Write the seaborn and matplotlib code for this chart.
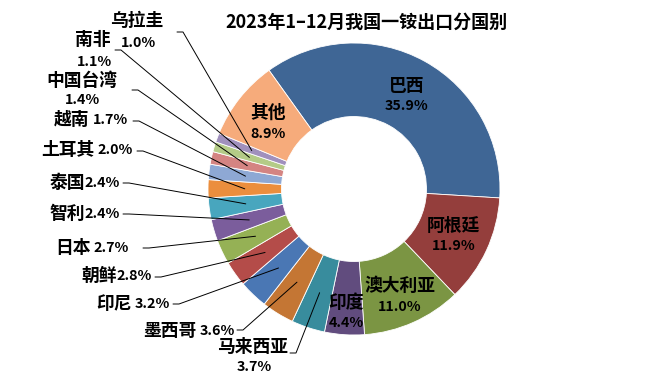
import numpy as np
import matplotlib
matplotlib.use('Agg')
import matplotlib.pyplot as plt
import seaborn as sns

# 2023年1-12月我国一铵出口分国别 (share, %)
countries = ['巴西', '阿根廷', '澳大利亚', '印度', '马来西亚', '墨西哥', '印尼', '朝鲜',
             '日本', '智利', '泰国', '土耳其', '越南', '中国台湾', '南非', '乌拉圭', '其他']
shares = [35.9, 11.9, 11.0, 4.4, 3.7, 3.6, 3.2, 2.8, 2.7, 2.4, 2.4, 2.0, 1.7, 1.4, 1.1, 1.0, 8.9]
colors = ['#3F6695', '#943E3C', '#7B9543', '#614C7E', '#388C9D', '#C47634', '#4A77B4', '#B44C49',
          '#95B155', '#7B5D9C', '#48A6BE', '#EB8E3D', '#8EA8D4', '#D48482', '#B4CB87', '#A090BD',
          '#F6AB7B']
title = '2023年1–12月我国一铵出口分国别'

sns.set_theme(style='white')
plt.rcParams['font.family'] = ['Noto Sans CJK SC', 'DejaVu Sans']

W, H = 659, 378
fig = plt.figure(figsize=(W / 100, H / 100), dpi=100)
ax = fig.add_axes([0, 0, 1, 1])

cx, cy = 354, H - 189
R, r = 146, 72.5
wedges, _ = ax.pie(shares, colors=colors, startangle=125.6, counterclock=False,
                   radius=R, center=(cx, cy),
                   wedgeprops=dict(width=R - r, edgecolor='white', linewidth=0.6))
ax.set_xlim(0, W)
ax.set_ylim(0, H)
ax.set_aspect('auto')
ax.axis('off')

NAME_FS, PCT_FS = 12.8, 10.3
pct = {c: f'{v:.1f}%' for c, v in zip(countries, shares)}

def txt(x, y, s, fs, **kw):
    return ax.text(x, H - y, s, fontsize=fs, fontweight='bold', color='black', **kw)

# labels inside the ring (name centre, percent centre) in pixels, y down
inside = {'巴西': ((407, 86), (407, 106)), '阿根廷': ((453, 226), (454, 246)),
          '澳大利亚': ((400, 286), (400, 307)), '印度': ((346, 303), (346, 323)),
          '其他': ((268, 113), (268, 134))}
for c, (p1, p2) in inside.items():
    txt(*p1, c, NAME_FS, ha='center', va='center')
    txt(*p2, pct[c], PCT_FS, ha='center', va='center')

# outside labels: stacked (name over percent)
stacked = {'乌拉圭': ((137, 21), (139, 43), (177, 32)),
           '南非': ((93, 40), (94, 62), (115, 50)),
           '中国台湾': ((82, 81), (82, 100), (132, 90)),
           '马来西亚': ((253, 347), (254, 367), (290, 353))}
# outside labels on one line: (right edge x, y, gap, leader start)
inline = {'越南': (128, 120, 3, (133, 121)), '土耳其': (133, 150, 3, (137, 151)),
          '泰国': (120, 183, 0, (123, 183)), '智利': (120, 214, 0, (123, 214)),
          '日本': (129, 248, 3, (143, 248)), '朝鲜': (152, 276, 0, (155, 277)),
          '印尼': (170, 304, 3, (173, 304)), '墨西哥': (235, 331, 3, (237, 330))}

fig.canvas.draw()
rend = fig.canvas.get_renderer()
starts = {}
for c, (p1, p2, s) in stacked.items():
    txt(*p1, c, NAME_FS, ha='center', va='center')
    txt(*p2, pct[c], PCT_FS, ha='center', va='center')
    starts[c] = s
for c, (xr, y, gap, s) in inline.items():
    t = txt(xr, y, pct[c], PCT_FS, ha='right', va='center')
    w = t.get_window_extent(rend).width
    txt(xr - w - gap, y, c, NAME_FS, ha='right', va='center')
    starts[c] = s

# leader lines: short horizontal stub, then to the middle of the wedge
for c, w in zip(countries, wedges):
    if c not in starts:
        continue
    ang = np.deg2rad((w.theta1 + w.theta2) / 2)
    rm = (R + r) / 2
    tx, ty = cx + rm * np.cos(ang), cy + rm * np.sin(ang)
    sx, sy = starts[c]
    ax.plot([sx, sx + 6, tx], [H - sy, H - sy, ty], color='black', lw=0.7)

txt(366, 22, title, 13, ha='center', va='center')

fig.savefig('out.png', dpi=100)
